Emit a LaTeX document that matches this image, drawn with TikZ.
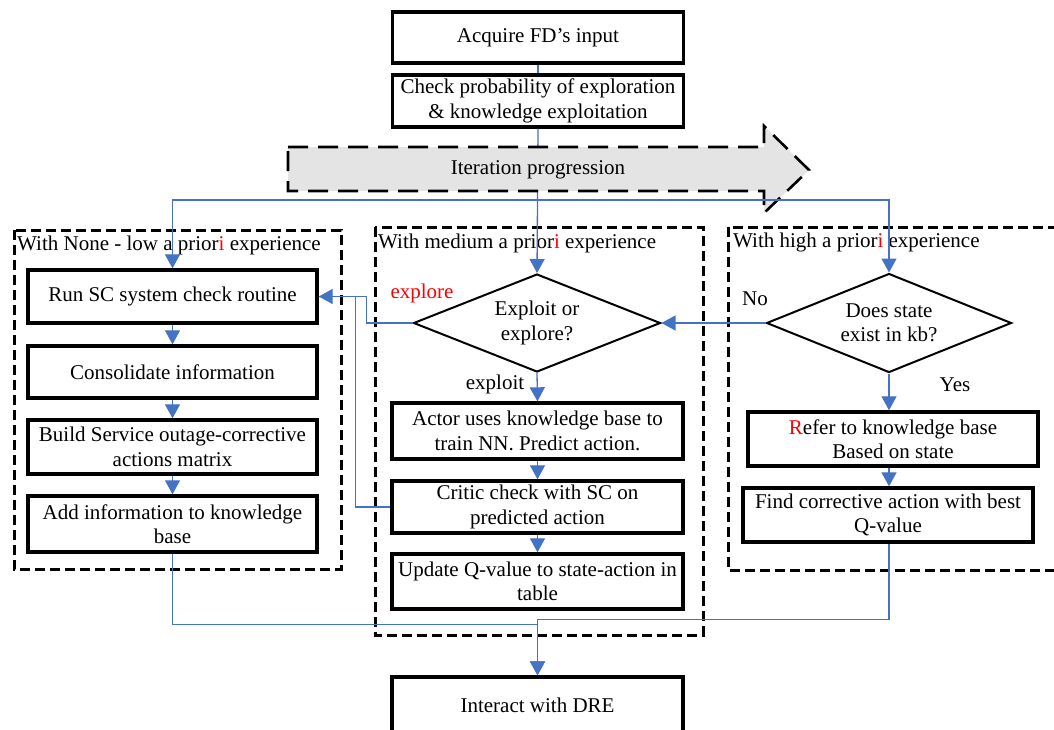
\documentclass[tikz,border=0pt]{standalone}
\usepackage{fontspec}
\setmainfont{Liberation Serif}
\usetikzlibrary{arrows.meta,shapes.geometric,calc}
\definecolor{flowblue}{HTML}{4472C4}
\definecolor{bandgray}{HTML}{E4E4E4}

\begin{document}
\begin{tikzpicture}[x=1pt,y=-1pt,
  every node/.style={font=\fontsize{21}{24.5}\selectfont},
  stepbox/.style={draw=black, line width=3.4pt, fill=white, minimum width=291pt,
                  inner sep=0pt, align=center},
  decision/.style={draw=black, line width=2pt, fill=white, diamond, aspect=2.5,
                   inner sep=0pt, align=center},
  group/.style={draw=black, line width=3pt, dash pattern=on 10pt off 5pt},
  band/.style={draw=black, line width=2.6pt, dash pattern=on 20pt off 10pt, fill=bandgray},
  flow/.style={draw=flowblue, line width=1.3pt, -{Triangle[width=15pt,length=14pt]}},
  link/.style={draw=flowblue, line width=1.3pt},
  tag/.style={inner sep=0pt},
]
\useasboundingbox (0,0) rectangle (1054,729);
\clip (0,0) rectangle (1054,729);

% experience groups
\draw[group] (14,230) rectangle (341,569);
\draw[group] (375,227) rectangle (703,635);
\draw[group] (728,227) rectangle (1075,570);
\node[tag, anchor=west] (tlow)  at (17,245)  {With None - low a prior\textcolor{red}{i} experience};
\node[tag, anchor=west] (tmed)  at (378,243) {With medium a prior\textcolor{red}{i} experience};
\node[tag, anchor=west] (thigh) at (733,242) {With high a prior\textcolor{red}{i} experience};

% top of the flow
\node[stepbox, minimum height=51pt] (acq) at (538,37.5) {Acquire FD’s input};
\node[stepbox, minimum height=52pt] (chk) at (538,101) {Check probability of exploration\\\& knowledge exploitation};

% none / low experience
\node[stepbox, minimum width=289pt, minimum height=53pt] (run)   at (172.5,296.5) {Run SC system check routine};
\node[stepbox, minimum width=289pt, minimum height=52pt] (cons)  at (172.5,372)   {Consolidate information};
\node[stepbox, minimum width=289pt, minimum height=54pt] (build) at (172.5,447)   {Build Service outage-corrective\\actions matrix};
\node[stepbox, minimum width=289pt, minimum height=56pt] (add)   at (172.5,524)   {Add information to knowledge\\base};

% medium experience
\node[decision, minimum width=247pt, minimum height=98pt] (d1) at (537,323) {Exploit or\\explore?};
\node[stepbox, minimum height=56pt] (actor)  at (537.5,431)   {Actor uses knowledge base to\\train NN. Predict action.};
\node[stepbox, minimum height=52pt] (critic) at (537.5,507)   {Critic check with SC on\\predicted action};
\node[stepbox, minimum height=55pt] (update) at (537.5,581.5) {Update Q-value to state-action in\\table};

% high experience
\node[decision, minimum width=245pt, minimum height=99pt] (d2) at (889,323) {Does state\\exist in kb?};
\node[stepbox, minimum width=290pt, minimum height=54pt] (refer) at (893,439) {\textcolor{red}{R}efer to knowledge base\\Based on state};
\node[stepbox, minimum width=290pt, minimum height=54pt] (find)  at (888,515) {Find corrective action with best\\Q-value};

% environment
\node[stepbox, minimum height=56pt] (dre) at (537.5,705) {Interact with DRE};

% branch labels
\node[tag, text=red] (lexplore) at (422,293) {explore};
\node[tag] (lexploit) at (495,384) {exploit};
\node[tag] (lno)  at (755,299) {No};
\node[tag] (lyes) at (955,385) {Yes};

% main spine
\draw[link] (acq.south) -- (chk.north);
\draw[flow] (chk.south) -- (d1.north);

% iteration band over the spine
\draw[band] (288,147) -- (764,147) -- (764,126) -- (809,170) -- (764,213)
            -- (764,191) -- (288,191) -- cycle;
\node[tag] (iter) at (538,170) {Iteration progression};

% split to the three experience levels
\coordinate (split) at (538,200);
\draw[flow] (split) -| (run.north);
\draw[flow] (split) -| (d2.north);

% low experience chain
\draw[flow] (run.south) -- (cons.north);
\draw[flow] (cons.south) -- (build.north);
\draw[flow] (build.south) -- (add.north);

% medium experience chain
\draw[flow] (d1.south) -- (actor.north);
\draw[flow] (actor.south) -- (critic.north);
\draw[flow] (critic.south) -- (update.north);
\draw[flow] (d1.west) -- ++(-46,0) |- (run.east);
\draw[link] (critic.west) -- ++(-35,0) coordinate (cbend) -- (cbend |- run.east);

% high experience chain
\draw[flow] (d2.west) -- (d1.east);
\draw[flow] (d2.south) -- (d2.south |- refer.north);
\draw[flow] (d2.south |- refer.south) -- (d2.south |- find.north);

% merge into the environment
\draw[flow] (add.south) -- ++(0,71) -| (dre.north);
\draw[flow] (d2.south |- find.south) -- ++(0,76) -| (dre.north);
\end{tikzpicture}
\end{document}
